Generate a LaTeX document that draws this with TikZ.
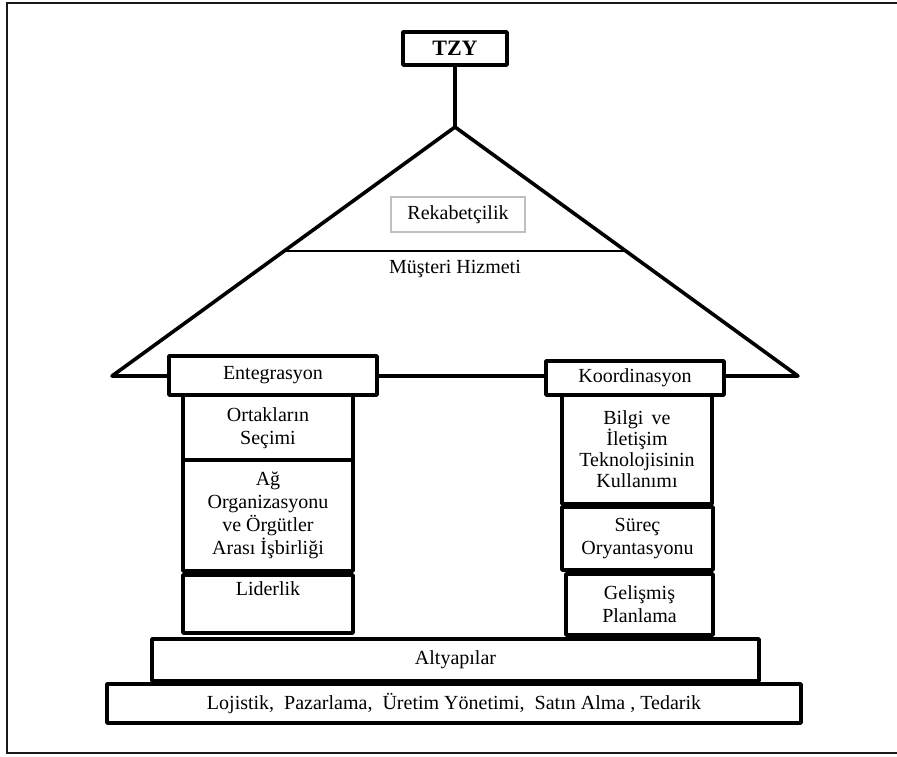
\documentclass[tikz,border=0pt]{standalone}
\usepackage{fontspec}
\setmainfont{Liberation Serif}
\usetikzlibrary{calc}
\begin{document}
\begin{tikzpicture}[x=1pt,y=-1pt,
  heavy/.style={line width=3.6pt, line join=round, line cap=round},
  box/.style={draw, heavy, fill=white, align=center, inner sep=0pt,
    font=\fontsize{20}{23}\selectfont},
  thinbox/.style={draw=black!25, line width=1.2pt, fill=white, inner sep=0pt,
    font=\fontsize{20}{23}\selectfont},
  frame/.style={draw=black!90, line width=2.2pt}]
\useasboundingbox (0,0) rectangle (897,756);

% outer frame
\draw[frame] (900,3) -- (7,3) -- (7,753) -- (900,753);

% roof
\coordinate (apex) at (455,127);
\coordinate (bl) at (112,376);
\coordinate (br) at (798,376);
\draw[heavy] (bl) -- (apex) -- (br) -- cycle;
\coordinate (ml) at ($(bl)!0.502!(apex)$);
\coordinate (mr) at ($(br)!0.502!(apex)$);
\draw[line width=1.2pt] (ml) -- (mr);

% top sign
\node[box, font=\fontsize{22}{24}\selectfont\bfseries,
  minimum width=104, minimum height=33] (tzy) at (455,48.5) {TZY};
\draw[heavy] (tzy.south) -- (apex);

% roof contents
\node[thinbox, minimum width=134, minimum height=35] (rek) at (458,214.5) {Rekabetçilik};
\node[font=\fontsize{20}{23}\selectfont] (mus) at (455,269) {Müşteri Hizmeti};

% capitals
\node[box, minimum width=208, minimum height=39] (ent) at (273,375.5) {Entegrasyon};
\node[box, minimum width=178, minimum height=34] (koo) at (635,378) {Koordinasyon};

% left pillar
\node[box, minimum width=170, minimum height=67] (ort) at (268,428.5) {Ortakların\\Seçimi};
\node[box, minimum width=170, minimum height=111] (ag) at (268,515.5)
  {Ağ\\Organizasyonu\\ve Örgütler\\Arası İşbirliği};
\node[box, minimum width=170, minimum height=58] (lid) at (268,604) {Liderlik\\\strut};

% right pillar
\node[box, minimum width=150, minimum height=109, font=\fontsize{20}{21}\selectfont]
  (bil) at (637,449.5) {Bilgi\, ve\\İletişim\\Teknolojisinin\\Kullanımı};
\node[box, minimum width=151, minimum height=63] (sur) at (637.5,538.5) {Süreç\\Oryantasyonu};
\node[box, minimum width=147, minimum height=61] (gel) at (639.5,604.5) {Gelişmiş\\Planlama};

% foundation
\node[box, minimum width=607, minimum height=42] (alt) at (455.5,660) {Altyapılar};
\node[box, minimum width=694, minimum height=39] (loj) at (454,703.5)
  {Lojistik,\ \ Pazarlama,\ \ Üretim Yönetimi,\ \ Satın Alma\ , Tedarik};
\end{tikzpicture}
\end{document}
